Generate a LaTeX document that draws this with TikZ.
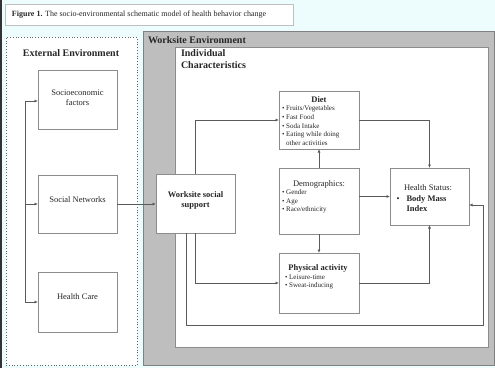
\documentclass[tikz,border=0pt]{standalone}
\usepackage{fontspec}
\setmainfont{Liberation Serif}
\usetikzlibrary{arrows.meta}
\definecolor{bgc}{HTML}{EDFCFC}
\definecolor{grayfill}{HTML}{BEBEBE}
\definecolor{boxline}{HTML}{8C8C8C}
\definecolor{lnc}{HTML}{5A5A5A}
\begin{document}
\begin{tikzpicture}[x=1pt,y=-1pt,
  box/.style={draw=boxline, line width=0.8pt, fill=white, inner sep=0pt, outer sep=0pt},
  txt/.style={inner sep=0pt, outer sep=0pt, text=black!85},
  arr/.style={draw=lnc, line width=0.8pt, -{Latex[length=3.5pt,width=3pt]}},
  ln/.style={draw=lnc, line width=0.8pt},
  small/.style={font=\fontsize{7}{8.7}\selectfont},
  mid/.style={font=\fontsize{8.5}{10}\selectfont},
  midb/.style={font=\fontsize{8.5}{10}\selectfont\bfseries},
  big/.style={font=\fontsize{10}{12}\selectfont\bfseries}]
% background
\fill[bgc] (0,0) rectangle (495,368);
\fill[black!80] (0,0) rectangle (1.5,368);
\useasboundingbox (0,0) rectangle (495,368);
% caption
\node[box, draw=black!25, minimum width=288pt, minimum height=21pt] (cap) at (149,14.5) {};
\node[txt, anchor=west, font=\fontsize{8}{9}\selectfont] (captxt) at (12,14.5) {\textbf{Figure 1.} The socio-environmental schematic model of health behavior change};
% external environment
\node[box, draw=black!60, dotted, line width=0.6pt, minimum width=131pt, minimum height=328pt] (ext) at (71.5,201) {};
\node[txt, big] (exttitle) at (71,53) {External Environment};
\node[box, minimum width=79pt, minimum height=59pt] (socio) at (77.5,99.5) {};
\node[txt, mid, align=center] (sociotxt) at (77.5,98) {Socioeconomic\\factors};
\node[box, minimum width=79pt, minimum height=58pt] (social) at (77.5,204) {};
\node[txt, mid] (socialtxt) at (77.5,200) {Social Networks};
\node[box, minimum width=79pt, minimum height=60pt] (hcare) at (77.5,302) {};
\node[txt, mid] (hcaretxt) at (77.5,297) {Health Care};
% bracket
\coordinate (b1) at (25,101);
\coordinate (b2) at (25,204);
\coordinate (b3) at (25,302);
\draw[ln] (b1) -- (b3);
\draw[arr] (b1) -- (socio.west |- b1);
\draw[arr] (b2) -- (social.west |- b2);
\draw[arr] (b3) -- (hcare.west |- b3);
% worksite environment
\node[box, fill=grayfill, draw=black!50, minimum width=351pt, minimum height=334pt] (work) at (318.5,198) {};
\node[txt, big, anchor=west] (worktitle) at (148,40) {Worksite Environment};
\node[box, minimum width=313pt, minimum height=300pt] (indiv) at (331.5,197) {};
\node[txt, big, anchor=north west, align=left] (indivtitle) at (181,50) {Individual\\Characteristics};
% worksite social support
\node[box, minimum width=79pt, minimum height=59pt] (wss) at (195.5,203.5) {};
\node[txt, midb, align=center] (wsstxt) at (195.5,200) {Worksite social\\support};
% diet
\node[box, minimum width=80pt, minimum height=58pt] (diet) at (319,120) {};
\node[txt, midb] (diettitle) at (319,100) {Diet};
\node[txt, small, align=left, anchor=north west] (dietlist) at (282,106) {• Fruits/Vegetables\\• Fast Food\\• Soda Intake\\• Eating while doing\\\phantom{• }other activities};
% demographics
\node[box, minimum width=80pt, minimum height=66pt] (demo) at (319,201) {};
\node[txt, mid] (demotitle) at (319,184) {Demographics:};
\node[txt, small, align=left, anchor=north west] (demolist) at (282,189.5) {• Gender\\• Age\\• Race/ethnicity};
% physical activity
\node[box, minimum width=80pt, minimum height=60pt] (phys) at (319,283) {};
\node[txt, midb] (phystitle) at (318,268.5) {Physical activity};
\node[txt, small, align=left, anchor=north west] (physlist) at (285,274.5) {• Leisure-time\\• Sweat-inducing};
% health status
\node[box, minimum width=79pt, minimum height=57pt] (health) at (429.5,196.5) {};
\node[txt, mid] (healthtitle) at (428,188) {Health Status:};
\node[txt, mid] (hbullet) at (398,200) {•};
\node[txt, midb, align=left, anchor=north west] (healthlist) at (406.5,196) {Body Mass\\Index};
% connectors
\draw[arr] (social.east) -- (wss.west |- social.east);
\draw[arr] (wss.north) |- (diet.west);
\draw[arr] (wss.south) |- (phys.west);
\coordinate (loopR) at (483,325);
\draw[arr] ([xshift=-9.5pt]wss.south) |- (loopR) |- ([yshift=-8.5pt]health.east);
\draw[arr] (diet.east) -| (health.north);
\draw[arr] (demo.north) -- (diet.south);
\draw[arr] (demo.south) -- (phys.north);
\draw[arr] (demo.east |- health.west) -- (health.west);
\draw[arr] (phys.east) -| (health.south);
\end{tikzpicture}
\end{document}
